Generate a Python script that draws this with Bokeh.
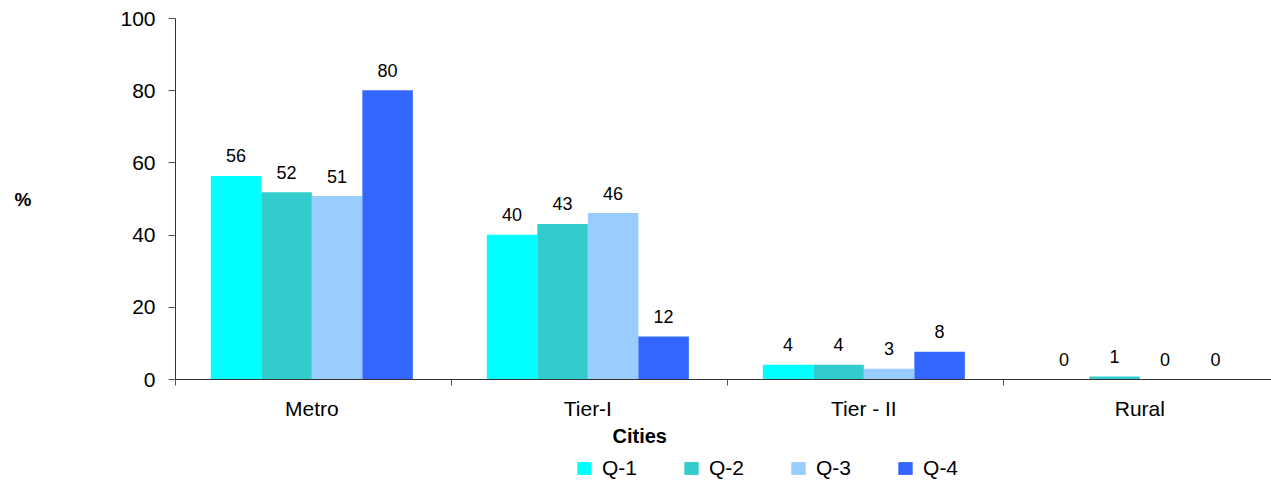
from bokeh.plotting import figure
from bokeh.models import Range1d, FixedTicker, Title, Legend, LegendItem, ColumnDataSource
from bokeh.layouts import column
from bokeh.core.properties import value
from bokeh.embed import file_html
from bokeh.resources import INLINE

categories = ["Metro", "Tier-I", "Tier - II", "Rural"]
series = ["Q-1", "Q-2", "Q-3", "Q-4"]
q1 = [56.4, 40.1, 4.1, 0.0]
q2 = [51.9, 43.1, 4.1, 0.8]
q3 = [50.8, 46.1, 3.0, 0.0]
q4 = [80.1, 11.9, 7.7, 0.0]
colors = ["#00FFFF", "#33CCCC", "#99CCFF", "#3366FF"]
y_ticks = [0, 20, 40, 60, 80, 100]
x_title = "Cities"
y_title = "%"

FONT = "Liberation Sans"
W = 1271
H_MAIN, H_LEG = 422, 58
LEFT = 175
frame_w = W - LEFT
cat_px = 276.0

p = figure(width=W, height=H_MAIN, output_backend="svg", toolbar_location=None,
           x_range=Range1d(0, frame_w / cat_px), y_range=Range1d(0, 100),
           min_border_left=LEFT, min_border_right=0, min_border_top=18,
           min_border_bottom=42)
p.outline_line_color = None
p.grid.visible = False
p.background_fill_color = "white"
p.border_fill_color = "white"

bar_w = 0.183
center = 0.494
all_vals = [q1, q2, q3, q4]
for i, (name, vals, col) in enumerate(zip(series, all_vals, colors)):
    xs = [k + center + (i - 1.5) * bar_w for k in range(len(categories))]
    src = ColumnDataSource(dict(x=xs, top=vals, lab=[str(int(round(v))) for v in vals]))
    p.vbar(x="x", top="top", width=bar_w, source=src, fill_color=col, line_color=None)
    p.text(x="x", y="top", text="lab", source=src, text_align="center",
           text_baseline="alphabetic", y_offset=-20, text_font=value(FONT),
           text_font_size="18px", text_color="black")

# x axis
xa = p.xaxis[0]
xa.ticker = FixedTicker(ticks=[k + center for k in range(len(categories))],
                        minor_ticks=list(range(len(categories))))
xa.major_label_overrides = {k + center: c for k, c in enumerate(categories)}
xa.major_tick_out = 0
xa.major_tick_in = 0
xa.minor_tick_out = 6
xa.minor_tick_in = 0
xa.minor_tick_line_color = "#555555"
xa.axis_line_color = "#333333"
xa.major_label_standoff = 11
xa.major_label_text_font = FONT
xa.major_label_text_font_size = "21px"
xa.major_label_text_color = "black"

# y axis
ya = p.yaxis[0]
ya.ticker = FixedTicker(ticks=y_ticks)
ya.minor_tick_line_color = None
ya.major_tick_out = 7
ya.major_tick_in = 0
ya.major_tick_line_color = "#555555"
ya.axis_line_color = "#333333"
ya.major_label_standoff = 13
ya.major_label_text_font = FONT
ya.major_label_text_font_size = "21px"
ya.major_label_text_color = "black"
ya.axis_label = y_title
ya.axis_label_orientation = "horizontal"
ya.axis_label_standoff = 86
ya.axis_label_text_font = FONT
ya.axis_label_text_font_size = "19px"
ya.axis_label_text_font_style = "bold"
ya.axis_label_text_color = "black"

# second strip: x title and legend
p2 = figure(width=W, height=H_LEG, output_backend="svg", toolbar_location=None,
            x_range=Range1d(0, 1), y_range=Range1d(0, 1),
            min_border_left=LEFT, min_border_right=0, min_border_top=0,
            min_border_bottom=0)
p2.axis.visible = False
p2.grid.visible = False
p2.outline_line_color = None
p2.background_fill_color = "white"
p2.border_fill_color = "white"

t = Title(text=x_title, align="left", offset=437, text_font=FONT,
          text_font_size="20px", text_font_style="bold", text_color="black", standoff=0)
p2.add_layout(t, "above")

items = []
for name, col in zip(series, colors):
    # proxy glyph placed outside the visible range, only used for the legend swatch
    r = p2.vbar(x=[5], top=[1], width=0.1, fill_color=col, line_color=None)
    items.append(LegendItem(label=name, renderers=[r]))

legend = Legend(items=items, orientation="horizontal", location=(400, 0),
                border_line_color=None, background_fill_alpha=0,
                glyph_width=18, glyph_height=16, label_standoff=9, spacing=45,
                label_text_font=FONT, label_text_font_size="21px",
                label_text_color="black", padding=0, margin=0)
p2.add_layout(legend, "center")

layout = column(p, p2, spacing=0)
open("out.html", "w").write(file_html(layout, INLINE))
